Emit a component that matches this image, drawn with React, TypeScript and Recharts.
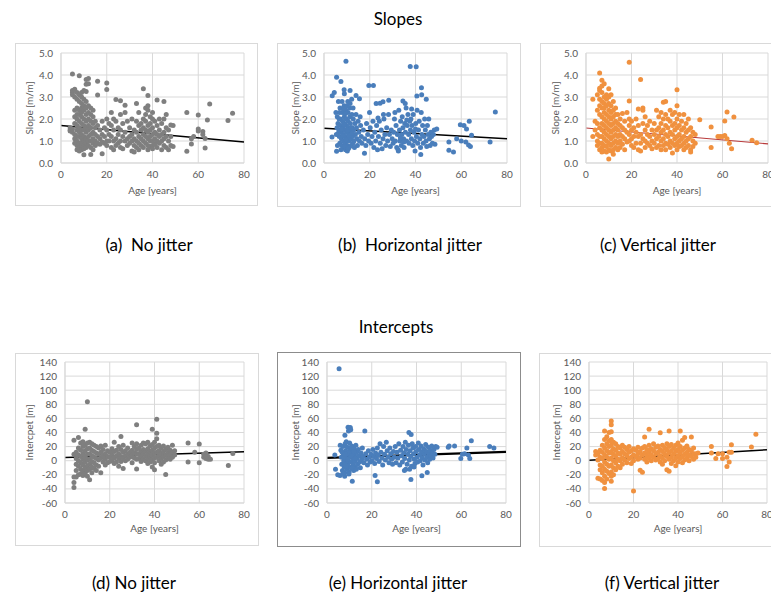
import React from 'react'
import {
  CartesianGrid,
  ReferenceLine,
  Scatter,
  ScatterChart,
  XAxis,
  YAxis,
} from 'recharts'

// ages on the x axis, shared by every panel
const ageTicks = [0, 20, 40, 60, 80]
const slopeTicks = [0, 1, 2, 3, 4, 5]
const interceptTicks = [-60, -40, -20, 0, 20, 40, 60, 80, 100, 120, 140]

// (a) slopes, no jitter: [age, slopes at that age]
const slopeNoJitter: [number, number[]][] = [
  [4, [1.5, 1.45, 1.6]],
  [5, [4.05, 3.3, 3.2, 1.55, 1.4, 3.1]],
  [6, [3.35, 3.0, 2.4, 1.8, 1.3, 1.1, 0.9, 2.1]],
  [7, [2.9, 2.5, 2.2, 2.0, 1.7, 1.5, 1.2, 1.0, 0.8, 0.6, 3.2]],
  [8, [3.97, 3.1, 2.8, 2.4, 2.2, 1.9, 1.6, 1.4, 1.2, 0.9, 0.7, 0.55]],
  [9, [3.0, 2.7, 2.5, 2.3, 2.1, 1.8, 1.5, 1.3, 1.1, 0.9, 0.75, 0.6, 3.2]],
  [10, [3.3, 2.9, 2.6, 2.4, 2.0, 1.7, 1.5, 1.2, 1.0, 0.8, 0.65, 0.38]],
  [11, [3.8, 3.58, 3.25, 2.8, 2.5, 2.2, 1.9, 1.6, 1.4, 1.1, 0.9, 0.7]],
  [12, [3.84, 3.6, 2.6, 2.3, 2.0, 1.7, 1.5, 1.2, 1.0, 0.8]],
  [13, [2.5, 2.2, 1.9, 1.6, 1.3, 1.0, 0.39, 0.7]],
  [14, [2.4, 2.1, 1.8, 1.4, 1.1, 0.9, 0.6]],
  [15, [1.9, 1.6, 1.3, 1.0, 0.8]],
  [16, [3.09, 3.72, 1.7, 1.2, 0.9]],
  [17, [1.5, 1.1, 0.85]],
  [18, [0.42, 1.9, 1.3, 0.95]],
  [19, [1.6, 1.2, 0.9]],
  [20, [3.64, 3.34, 2.0, 1.5, 1.0, 0.8]],
  [21, [1.8, 1.3, 1.0]],
  [22, [2.3, 1.7, 1.2, 0.7]],
  [23, [2.0, 1.5, 1.0, 0.6]],
  [24, [2.89, 1.9, 1.1, 0.8]],
  [25, [1.6, 1.3, 0.9]],
  [26, [2.83, 2.2, 1.5, 1.0, 0.7]],
  [27, [1.8, 1.2, 0.65]],
  [28, [2.62, 2.3, 1.4, 1.0]],
  [29, [1.9, 1.1, 0.8]],
  [30, [1.6, 1.2, 0.9]],
  [31, [2.0, 1.3, 1.0, 0.55]],
  [32, [1.5, 1.1, 0.8, 0.5]],
  [33, [2.71, 1.9, 1.4, 1.0, 0.7]],
  [34, [2.3, 1.7, 1.2, 0.9, 0.6]],
  [35, [1.8, 1.5, 1.1, 0.8]],
  [36, [3.37, 2.0, 1.6, 1.3, 1.0, 0.7]],
  [37, [2.5, 2.2, 1.9, 1.5, 1.2, 0.9]],
  [38, [3.07, 2.6, 2.4, 1.7, 1.4, 1.1, 0.8, 0.6]],
  [39, [2.1, 1.8, 1.5, 1.2, 1.0, 0.75]],
  [40, [2.3, 2.0, 1.6, 1.3, 1.0, 0.8, 0.65]],
  [41, [1.9, 1.4, 1.1, 0.85]],
  [42, [2.86, 1.7, 1.3, 1.0, 0.7]],
  [43, [2.0, 1.5, 1.2, 0.9]],
  [44, [1.8, 1.3, 1.0, 0.6]],
  [45, [2.79, 2.0, 1.4, 1.1, 0.8]],
  [46, [2.2, 1.6, 1.2, 0.7]],
  [47, [1.5, 1.0, 0.6]],
  [48, [1.73, 1.2, 0.8]],
  [49, [1.7, 0.75]],
  [55, [2.29, 0.53]],
  [57, [0.86, 1.1]],
  [58, [1.2]],
  [60, [2.18, 1.54, 1.45]],
  [62, [1.43, 1.3]],
  [63, [0.68, 1.11]],
  [64, [1.96]],
  [65, [2.68]],
  [73, [1.93]],
  [75, [2.26]],
]

// (b) slopes, horizontal jitter: [age, slope]
const slopeHorizontal: number[][] = [
  [9.6, 4.62], [37.7, 4.39], [40.3, 4.38], [5.5, 3.9], [7.4, 3.71], [3.6, 3.06], [4.5, 3.2],
  [8.8, 3.33], [8.9, 3.15], [11.4, 3.3], [14, 3.07], [15.5, 2.92], [19.6, 3.52], [21.6, 3.52],
  [22.8, 2.7], [24.5, 2.72], [25.8, 2.78], [28.3, 2.85], [34.5, 2.82], [35.5, 2.7], [40.6, 3.05],
  [42.6, 3.42], [42.7, 3.1], [44.7, 2.9], [74.9, 2.32], [59.6, 1.74], [61.2, 1.7], [62.3, 1.55],
  [63.5, 1.9], [64.5, 1.26], [72.6, 0.95], [54.6, 0.95], [54.6, 0.58], [56.6, 0.5], [58, 1.1],
  [60, 1.0], [62, 0.95], [63.2, 0.82], [64, 0.75], [42.3, 0.39], [17.7, 0.44], [5.5, 0.53],
  [3.5, 1.18], [48.2, 1.5], [49.3, 1.55],
  [5.2, 2.3], [5.8, 2.1], [6.1, 1.8], [6.3, 2.8], [6.5, 1.5], [6.7, 1.2], [6.9, 0.9], [7.0, 2.5],
  [7.2, 2.0], [7.3, 1.7], [7.5, 1.4], [7.6, 1.1], [7.8, 0.8], [7.9, 2.8], [8.0, 2.3], [8.1, 1.9],
  [8.3, 1.6], [8.4, 1.3], [8.5, 1.0], [8.6, 0.7], [8.8, 2.6], [8.9, 2.1], [9.0, 1.8], [9.1, 1.5],
  [9.2, 1.2], [9.3, 0.9], [9.4, 0.6], [9.5, 2.4], [9.7, 2.0], [9.8, 1.7], [9.9, 1.4], [10.0, 1.1],
  [10.1, 0.8], [10.2, 0.55], [10.4, 2.8], [10.5, 2.3], [10.6, 1.9], [10.7, 1.6], [10.8, 1.3],
  [10.9, 1.0], [11.0, 0.7], [11.2, 2.5], [11.3, 2.1], [11.5, 1.8], [11.6, 1.4], [11.7, 1.1],
  [11.9, 0.8], [12.1, 2.9], [12.2, 2.2], [12.3, 1.6], [12.5, 1.2], [12.6, 0.9], [12.8, 2.0],
  [13.0, 1.5], [13.1, 1.0], [13.3, 0.7], [13.5, 1.8], [13.7, 1.3], [14.0, 2.2], [14.2, 1.6],
  [14.4, 1.1], [14.6, 0.8], [14.9, 1.9], [15.2, 1.4], [15.5, 1.0], [15.8, 2.1], [16.0, 1.7],
  [16.3, 1.2], [16.6, 0.9], [6.8, 2.3], [7.7, 1.55], [8.2, 1.25], [8.7, 1.75], [9.6, 1.05],
  [10.3, 1.5], [11.1, 1.25], [11.8, 1.6], [12.4, 1.35], [9.0, 0.75], [10.6, 0.65], [7.4, 0.6],
  [6.2, 1.35], [5.7, 1.6], [5.4, 1.3], [5.9, 0.8], [6.6, 2.0], [8.5, 2.45], [9.3, 2.25],
  [10.1, 2.6], [11.4, 2.7], [12.7, 2.5],
  [17.2, 1.5], [17.8, 1.1], [18.3, 0.8], [18.6, 1.8], [19.1, 1.3], [19.5, 1.0], [19.9, 2.3],
  [20.2, 1.6], [20.6, 0.9], [21.0, 1.2], [21.4, 1.9], [21.8, 0.7], [22.2, 1.4], [22.6, 1.0],
  [23.0, 1.7], [23.4, 0.6], [23.8, 1.2], [24.2, 1.9], [24.6, 0.9], [25.0, 1.5], [25.4, 0.65],
  [25.8, 1.1], [26.2, 2.0], [26.6, 1.3], [27.0, 0.8], [27.4, 1.6], [27.8, 1.0], [28.2, 2.2],
  [28.6, 1.3], [29.0, 0.75], [29.4, 1.5], [29.8, 1.1], [30.2, 0.9], [26.0, 2.2], [23.6, 2.05],
  [30.5, 1.4], [30.8, 2.0], [31.2, 1.0], [31.5, 1.7], [31.8, 0.7], [32.1, 1.3], [32.4, 0.6],
  [32.5, 0.55], [32.7, 2.4], [33.0, 1.5], [33.2, 1.0], [33.5, 1.9], [33.8, 0.8], [34.0, 1.3],
  [34.2, 2.1], [34.5, 1.6], [34.8, 1.1], [35.0, 0.7], [35.3, 1.8], [35.6, 1.4], [35.9, 2.5],
  [36.1, 1.0], [36.4, 1.7], [36.7, 2.2], [37.0, 1.3], [37.2, 0.9], [37.5, 1.9], [37.8, 1.5],
  [38.0, 2.0], [38.2, 1.1], [38.5, 1.7], [38.8, 0.8], [39.0, 2.2], [39.3, 1.4], [39.6, 1.0],
  [39.8, 0.55], [40.1, 1.8], [40.4, 1.2], [40.7, 2.4], [41.0, 0.9], [41.3, 1.5], [41.6, 1.9],
  [41.9, 1.1], [42.2, 0.7], [42.5, 2.3], [42.8, 1.3], [43.1, 1.7], [43.4, 0.9], [43.7, 1.2],
  [44.0, 2.0], [44.3, 1.5], [44.6, 1.0], [44.9, 0.75], [45.2, 1.7], [45.5, 1.3], [45.8, 2.0],
  [46.1, 1.1], [46.4, 0.8], [46.7, 1.4], [47.0, 1.2], [47.4, 0.9], [47.8, 1.3], [48.5, 0.85],
  [36.2, 1.95], [38.3, 2.45], [40.0, 1.55], [34.9, 0.95], [33.4, 1.15], [31.0, 2.3],
]

// (c) slopes, vertical jitter
const slopeVertical: [number, number[]][] = [
  [3, [2.9, 1.2]],
  [4, [1.9, 1.5]],
  [5, [3.1, 2.4, 1.8, 1.3, 1.0, 0.8]],
  [6, [3.4, 3.3, 2.9, 2.6, 2.2, 1.6, 1.2, 0.9, 0.6, 4.09]],
  [7, [3.76, 3.5, 3.2, 2.8, 2.5, 2.1, 1.8, 1.5, 1.2, 0.9, 0.7, 0.5]],
  [8, [3.6, 3.0, 2.7, 2.3, 2.0, 1.7, 1.4, 1.1, 0.8, 0.55, 2.5]],
  [9, [3.1, 2.9, 2.6, 2.2, 1.9, 1.6, 1.3, 1.0, 0.75, 0.5]],
  [10, [3.38, 3.0, 2.7, 2.4, 2.1, 1.8, 1.5, 1.2, 0.9, 0.6, 0.18]],
  [11, [3.1, 2.6, 2.3, 2.0, 1.7, 1.4, 1.1, 0.8, 0.55]],
  [12, [2.8, 2.4, 2.1, 1.8, 1.5, 1.2, 0.9, 0.6, 0.4]],
  [13, [2.5, 2.2, 1.9, 1.6, 1.3, 1.0, 0.7]],
  [14, [2.2, 1.8, 1.5, 1.2, 0.9, 0.6]],
  [15, [2.0, 1.7, 1.3, 1.0, 0.7]],
  [16, [2.25, 1.6, 1.2, 0.85]],
  [17, [1.9, 1.5, 1.1, 0.6]],
  [18, [2.3, 1.4, 0.95]],
  [19, [4.58, 2.82, 2.0, 1.7, 1.3, 1.0]],
  [20, [1.9, 1.5, 1.1, 0.8]],
  [21, [1.6, 1.2, 0.7]],
  [22, [2.0, 1.4, 0.9]],
  [23, [2.45, 1.7, 1.2, 0.6]],
  [24, [3.79, 1.3, 0.9, 0.55]],
  [25, [2.5, 2.4, 1.8, 1.1]],
  [26, [2.1, 1.5, 1.0, 0.7]],
  [27, [1.7, 1.3, 0.9]],
  [28, [1.9, 1.2, 0.8]],
  [29, [1.5, 1.0, 0.65]],
  [30, [1.8, 1.3, 0.9]],
  [31, [2.4, 1.5, 1.1, 0.7]],
  [32, [2.1, 1.6, 1.2, 0.8]],
  [33, [2.3, 1.8, 1.4, 1.0, 0.6]],
  [34, [2.76, 2.0, 1.5, 1.1, 0.8]],
  [35, [2.8, 2.2, 1.7, 1.3, 0.9, 0.6]],
  [36, [2.0, 1.6, 1.2, 0.85]],
  [37, [2.4, 1.9, 1.4, 1.0, 0.7]],
  [38, [2.2, 1.7, 1.3, 0.9, 0.45]],
  [39, [2.3, 1.8, 1.5, 1.1, 0.8]],
  [40, [3.33, 2.6, 2.0, 1.6, 1.2, 0.9, 0.6]],
  [41, [2.2, 1.7, 1.3, 1.0, 0.75]],
  [42, [1.9, 1.5, 1.1, 0.8]],
  [43, [2.2, 1.6, 1.2, 0.9, 0.6]],
  [44, [1.8, 1.4, 1.0, 0.7]],
  [45, [2.0, 1.5, 1.1, 0.8]],
  [46, [1.6, 1.2, 0.6, 0.5]],
  [47, [1.4, 1.0, 0.75]],
  [48, [1.3, 0.9]],
  [50, [1.97]],
  [55, [1.64, 0.7]],
  [58, [1.2]],
  [59, [1.2]],
  [60, [1.2]],
  [61, [1.91, 1.25]],
  [62, [2.32, 1.1]],
  [63, [0.9]],
  [64, [0.65]],
  [65, [2.09]],
  [73, [1.03]],
  [75, [0.92]],
]

// (d) intercepts, no jitter
const interceptNoJitter: [number, number[]][] = [
  [4, [29, 9, -23, -31, -38]],
  [5, [12, 3, -5, -14, -23]],
  [6, [33, 18, 8, 0, -8, -20]],
  [7, [25, 15, 6, -3, -12, -19]],
  [8, [27, 20, 10, 2, -6, -15, -21]],
  [9, [44.5, 22, 14, 5, -2, -10, -18]],
  [10, [83.5, 25, 17, 9, 1, -7, -14, -22]],
  [11, [26, 18, 10, 2, -5, -12, -27]],
  [12, [24, 15, 7, -1, -9, -17]],
  [13, [22, 13, 5, -3, -11]],
  [14, [20, 11, 3, -6, -14]],
  [15, [18, 9, 1, -8]],
  [16, [21, 12, 4, -17]],
  [17, [16, 7, -2]],
  [18, [22, 10, 2, -6]],
  [19, [14, 6, -3]],
  [20, [12, 5, -1]],
  [21, [17, 8, 0]],
  [22, [26, 13, 4, -4]],
  [23, [15, 7, -2]],
  [24, [20, 10, 3, -8]],
  [25, [34.5, 16, 6, -1]],
  [26, [22, 12, 4, -11]],
  [27, [14, 7, 0]],
  [28, [18, 9, 2]],
  [29, [12, 5]],
  [30, [25, 15, 7, -3]],
  [31, [20, 11, 4]],
  [32, [51, 24, 16, 9, 2, -11.6]],
  [33, [18, 10, 3]],
  [34, [22, 13, 6, -1]],
  [35, [25, 16, 9, 2]],
  [36, [24, 14, 7, 0]],
  [37, [26, 17, 10, 3, -4]],
  [38, [21, 12, 5, -2]],
  [39, [44.6, 23, 15, 8, 1, -9]],
  [40, [26, 18, 11, 4, -3, -13]],
  [41, [58.8, 39, 31, 20, 12, 5]],
  [42, [22, 14, 7, 0]],
  [43, [18, 10, 3, -5]],
  [44, [21, 13, 6, -2]],
  [45, [16, 8, 1, -19.6]],
  [46, [19, 11, 4]],
  [47, [15, 8, 2]],
  [48, [22, 12, 5]],
  [49, [14, 8]],
  [55, [25, -2]],
  [58, [12]],
  [60, [23.6, -3]],
  [62, [5, 9]],
  [63, [3, 7, 11]],
  [64, [6, 2]],
  [65, [2]],
  [73, [-6.8]],
  [75, [10.3]],
]

// (e) intercepts, horizontal jitter: [age, intercept]
const interceptHorizontal: number[][] = [
  [5.4, 130.5], [9.4, 47.4], [10.4, 47], [9.6, 42], [10.6, 44], [16.9, 42], [36.6, 40], [37.6, 37],
  [64.5, 28.4], [72.7, 20], [74.6, 17.9], [54.6, 21], [57, 21], [54.2, 19], [59.8, 3], [61.5, 10],
  [62.5, 18], [63.2, 8], [60.5, 9], [63.8, 3], [11.3, -29], [21.5, -21], [22.5, -29.8],
  [37.5, -26.7], [42.4, -21.5], [44.8, -16.7], [34.6, -14], [35.2, -12], [3.8, -12], [4.8, -20],
  [5.8, -21], [7.9, -22], [3.5, 8], [8, 36], [8.6, 27], [5.9, 22],
  [6.2, 15], [6.4, 5], [6.6, -5], [6.9, -14], [7.1, 20], [7.3, 10], [7.5, 0], [7.7, -9],
  [7.9, -17], [8.1, 24], [8.3, 14], [8.5, 4], [8.7, -4], [8.9, -12], [9.1, 19], [9.3, 9],
  [9.5, -1], [9.7, -8], [9.9, -16], [10.1, 25], [10.3, 15], [10.5, 6], [10.7, -2], [10.9, -11],
  [11.1, 21], [11.3, 11], [11.5, 2], [11.7, -6], [11.9, -14], [12.1, 17], [12.3, 8], [12.5, -1],
  [12.7, -9], [12.9, 22], [13.2, 12], [13.4, 3], [13.7, -5], [14.0, 16], [14.3, 7], [14.6, -2],
  [14.9, -10], [15.2, 11], [15.5, 2], [15.8, 18], [16.2, 6], [16.5, -3], [6.8, 12], [7.6, 5],
  [8.4, -7], [9.2, 2], [10.0, 11], [10.8, 19], [11.6, -10], [12.4, 4], [13.1, -12], [8.2, 9],
  [9.8, -19], [11.0, 7], [7.2, -18], [12.0, 13],
  [17.3, 10], [17.7, 2], [18.1, -6], [18.5, 14], [18.9, 5], [19.3, -2], [19.7, 9], [20.1, 0],
  [20.5, 16], [20.9, 6], [21.3, -4], [21.7, 11], [22.1, 3], [22.5, 18], [22.9, 8], [23.3, -1],
  [23.7, 24], [24.1, 12], [24.5, 4], [24.9, -6], [25.3, 20], [25.7, 9], [26.1, 1], [26.5, 26],
  [26.9, 14], [27.3, 5], [27.7, -3], [28.1, 18], [28.5, 10], [28.9, 2], [29.3, -5], [29.7, 13],
  [30.1, 5], [30.5, 20], [30.9, -3], [31.3, 12], [31.7, 4], [32.1, 24], [32.5, -6], [32.9, 15],
  [33.3, 7], [33.7, -2], [34.0, 20], [34.3, 11], [34.7, 3], [35.0, 26], [35.4, 16], [35.8, -5],
  [36.1, 9], [36.4, 22], [36.8, 1], [37.1, 14], [37.4, 6], [37.8, -8], [38.1, 24], [38.4, 18],
  [38.7, 10], [39.0, 2], [39.3, -4], [39.6, 20], [39.9, 13], [40.2, 5], [40.5, -2], [40.8, 25],
  [41.1, 16], [41.4, 8], [41.7, 0], [42.0, 21], [42.3, 12], [42.6, 4], [42.9, -6], [43.2, 17],
  [43.5, 9], [43.8, 1], [44.1, 23], [44.4, 13], [44.7, 5], [45.0, -3], [45.3, 19], [45.6, 10],
  [45.9, 2], [46.2, 15], [46.5, 7], [46.8, 21], [47.1, 11], [47.4, 4], [47.8, 16], [48.2, 9],
  [48.6, 20], [49.2, 19], [38.9, -9], [36.9, -12],
]

// (f) intercepts, vertical jitter
const interceptVertical: [number, number[]][] = [
  [3, [13, 8]],
  [4, [10, 1, -25]],
  [5, [15, 5, -6, -13, -26]],
  [6, [22, 12, 3, -8, -17, -28]],
  [7, [42, 30, 18, 8, -2, -12, -22, -31, -39.6]],
  [8, [34, 24, 14, 5, -5, -15, -26]],
  [9, [40, 28, 20, 11, 2, -8, -18]],
  [10, [56.3, 51, 41, 30, 22, 13, 4, -6, -16, -22, -29]],
  [11, [26, 17, 9, 0, -10, -20]],
  [12, [24, 15, 6, -3, -13]],
  [13, [20, 11, 2, -8]],
  [14, [18, 9, 0, -10]],
  [15, [22, 13, 4, -5]],
  [16, [19, 10, 1]],
  [17, [16, 7, -3]],
  [18, [20, 12, 3]],
  [19, [14, 5, -4]],
  [20, [-42.9, 17, 8, 0]],
  [21, [15, 6]],
  [22, [19, 10, 2]],
  [23, [-13.4, 13, 4]],
  [24, [-16.3, 18, 8]],
  [25, [33.5, 20, 11, 2]],
  [26, [16, 7, -2]],
  [27, [44.5, 22, 12, 4]],
  [28, [17, 8, 0]],
  [29, [24, 14, 5]],
  [30, [19, 10, 1]],
  [31, [21, 12, 3]],
  [32, [39.7, 16, 7, -2]],
  [33, [22, 13, 4, -5]],
  [34, [18, 9, 0]],
  [35, [24, 15, 6, -13]],
  [36, [42, 20, 11, 2, -15]],
  [37, [23, 14, 5, -4]],
  [38, [18, 9, 0]],
  [39, [22, 13, 4, -7]],
  [40, [25, 16, 7, -2]],
  [41, [42, 20, 11, 3]],
  [42, [29, 15, 6, -3]],
  [43, [33, 18, 9, 1]],
  [44, [21, 12, 4]],
  [45, [16, 8, 0]],
  [46, [33.5, 14, 6]],
  [47, [18, 10, 2]],
  [48, [10, 5]],
  [49, [11]],
  [55, [20, 11]],
  [57, [3]],
  [58, [10]],
  [60, [10, 3]],
  [62, [-8.2, 5]],
  [63, [-2, 12]],
  [64, [22.6, 12]],
  [73, [19.3]],
  [75, [37.4]],
]

// linear trend lines: value at age 0 and at age 80
const trendSlopeA = [1.7, 0.95]
const trendSlopeB = [1.58, 1.1]
const trendSlopeC = [1.59, 0.87]
const trendInterceptD = [4.6, 12.7]
const trendInterceptE = [4.1, 12.4]
const trendInterceptF = [0.8, 15.5]

const FONT = 'Lato, "Noto Sans", sans-serif'
const GRID = '#d9d9d9'
const TICK = '#595959'

const fromColumns = (cols: [number, number[]][]) =>
  cols.flatMap(([x, ys]) => ys.map((y) => ({ x, y })))
const fromPairs = (pairs: number[][]) => pairs.map(([x, y]) => ({ x, y }))

type Rect = { x: number; y: number; w: number; h: number }
type Plot = { x1: number; x2: number; y1: number; y2: number }

const Y_AXIS_W = 40
const X_AXIS_H = 35

function Panel(props: {
  box: Rect
  plot: Plot
  points: { x: number; y: number }[]
  color: string
  yDomain: [number, number]
  yTicks: number[]
  yFormat: (v: number) => string
  yLabel: string
  yLabelOffset: number
  xLabelOffset: number
  trend: number[]
  trendColor: string
  trendWidth: number
  border: string
}) {
  const { box, plot } = props
  const margin = {
    top: plot.y1 - box.y,
    right: box.x + box.w - plot.x2,
    left: plot.x1 - box.x - Y_AXIS_W,
    bottom: box.y + box.h - plot.y2 - X_AXIS_H,
  }
  return (
    <>
      <div
        style={{
          position: 'absolute',
          left: box.x,
          top: box.y,
          width: box.w,
          height: box.h,
          boxSizing: 'border-box',
          border: `1px solid ${props.border}`,
          background: '#fff',
        }}
      />
      <div style={{ position: 'absolute', left: box.x, top: box.y }}>
        <ScatterChart width={box.w} height={box.h} margin={margin}>
          <CartesianGrid stroke={GRID} strokeWidth={1} />
          <XAxis
            type="number"
            dataKey="x"
            domain={[0, 80]}
            ticks={ageTicks}
            interval={0}
            tickLine={false}
            axisLine={{ stroke: GRID }}
            height={X_AXIS_H}
            tick={{ fontSize: 10, fill: TICK, fontFamily: FONT }}
            label={{
              value: 'Age [years]',
              position: 'insideBottom',
              offset: props.xLabelOffset,
              style: { fontSize: 10, fill: TICK, fontFamily: FONT },
            }}
          />
          <YAxis
            type="number"
            dataKey="y"
            domain={props.yDomain}
            ticks={props.yTicks}
            interval={0}
            tickFormatter={props.yFormat}
            tickLine={false}
            axisLine={{ stroke: GRID }}
            width={Y_AXIS_W}
            tick={{ fontSize: 10, fill: TICK, fontFamily: FONT }}
            label={{
              value: props.yLabel,
              angle: -90,
              position: 'insideLeft',
              offset: props.yLabelOffset,
              style: { fontSize: 10, fill: TICK, fontFamily: FONT, textAnchor: 'middle' },
            }}
          />
          <Scatter
            data={props.points}
            isAnimationActive={false}
            shape={(p: any) => <circle cx={p.cx} cy={p.cy} r={2.5} fill={props.color} />}
          />
          <ReferenceLine
            segment={[
              { x: 0, y: props.trend[0] },
              { x: 80, y: props.trend[1] },
            ]}
            stroke={props.trendColor}
            strokeWidth={props.trendWidth}
          />
        </ScatterChart>
      </div>
    </>
  )
}

function Caption({ text, cx, top, size }: { text: string; cx: number; top: number; size: number }) {
  return (
    <div
      style={{
        position: 'absolute',
        left: cx - 120,
        top,
        width: 240,
        textAlign: 'center',
        whiteSpace: 'pre',
        fontSize: size,
        lineHeight: '20px',
        color: '#000',
      }}
    >
      {text}
    </div>
  )
}

const slopeFmt = (v: number) => v.toFixed(1)
const intFmt = (v: number) => String(v)

export default function App() {
  return (
    <div
      style={{
        position: 'absolute',
        left: 0,
        top: 0,
        width: 771,
        height: 594,
        overflow: 'hidden',
        background: '#fff',
        fontFamily: FONT,
      }}
    >
      <Caption text="Slopes" cx={398} top={9} size={17} />
      <Caption text="Intercepts" cx={396} top={317} size={17} />

      <Panel
        box={{ x: 15, y: 43, w: 243, h: 163 }}
        plot={{ x1: 61, x2: 244, y1: 53, y2: 163 }}
        points={fromColumns(slopeNoJitter)}
        color="#7f7f7f"
        yDomain={[0, 5]}
        yTicks={slopeTicks}
        yFormat={slopeFmt}
        yLabel="Slope [m/m]"
        yLabelOffset={8}
        xLabelOffset={4}
        trend={trendSlopeA}
        trendColor="#000"
        trendWidth={1.5}
        border={GRID}
      />
      <Panel
        box={{ x: 277, y: 43, w: 244, h: 164 }}
        plot={{ x1: 324, x2: 507, y1: 53, y2: 163 }}
        points={fromPairs(slopeHorizontal)}
        color="#4a7ebb"
        yDomain={[0, 5]}
        yTicks={slopeTicks}
        yFormat={slopeFmt}
        yLabel="Slope [m/m]"
        yLabelOffset={11}
        xLabelOffset={4}
        trend={trendSlopeB}
        trendColor="#000"
        trendWidth={1.5}
        border={GRID}
      />
      <Panel
        box={{ x: 540, y: 43, w: 244, h: 164 }}
        plot={{ x1: 586, x2: 768, y1: 53, y2: 163 }}
        points={fromColumns(slopeVertical)}
        color="#f0913f"
        yDomain={[0, 5]}
        yTicks={slopeTicks}
        yFormat={slopeFmt}
        yLabel="Slope [m/m]"
        yLabelOffset={9}
        xLabelOffset={4}
        trend={trendSlopeC}
        trendColor="#b8393a"
        trendWidth={1.2}
        border={GRID}
      />
      <Caption text="(a)  No jitter" cx={149} top={235} size={17} />
      <Caption text="(b)  Horizontal jitter" cx={410} top={235} size={17} />
      <Caption text="(c) Vertical jitter" cx={658} top={235} size={17} />

      <Panel
        box={{ x: 15, y: 353, w: 244, h: 193 }}
        plot={{ x1: 65, x2: 244, y1: 362, y2: 503 }}
        points={fromColumns(interceptNoJitter)}
        color="#7f7f7f"
        yDomain={[-60, 140]}
        yTicks={interceptTicks}
        yFormat={intFmt}
        yLabel="Intercpet [m]"
        yLabelOffset={4}
        xLabelOffset={6}
        trend={trendInterceptD}
        trendColor="#000"
        trendWidth={1.5}
        border={GRID}
      />
      <Panel
        box={{ x: 277, y: 352, w: 244, h: 195 }}
        plot={{ x1: 327, x2: 506, y1: 362, y2: 503 }}
        points={fromPairs(interceptHorizontal)}
        color="#4a7ebb"
        yDomain={[-60, 140]}
        yTicks={interceptTicks}
        yFormat={intFmt}
        yLabel="Intercpet [m]"
        yLabelOffset={8}
        xLabelOffset={6}
        trend={trendInterceptE}
        trendColor="#000"
        trendWidth={2.2}
        border="#8c8c8c"
      />
      <Panel
        box={{ x: 539, y: 353, w: 245, h: 194 }}
        plot={{ x1: 589, x2: 767, y1: 362, y2: 503 }}
        points={fromColumns(interceptVertical)}
        color="#f0913f"
        yDomain={[-60, 140]}
        yTicks={interceptTicks}
        yFormat={intFmt}
        yLabel="Intercept [m]"
        yLabelOffset={7}
        xLabelOffset={6}
        trend={trendInterceptF}
        trendColor="#000"
        trendWidth={1.5}
        border={GRID}
      />
      <Caption text="(d) No jitter" cx={134} top={573} size={17} />
      <Caption text="(e) Horizontal jitter" cx={398} top={573} size={17} />
      <Caption text="(f) Vertical jitter" cx={662} top={573} size={17} />
    </div>
  )
}
